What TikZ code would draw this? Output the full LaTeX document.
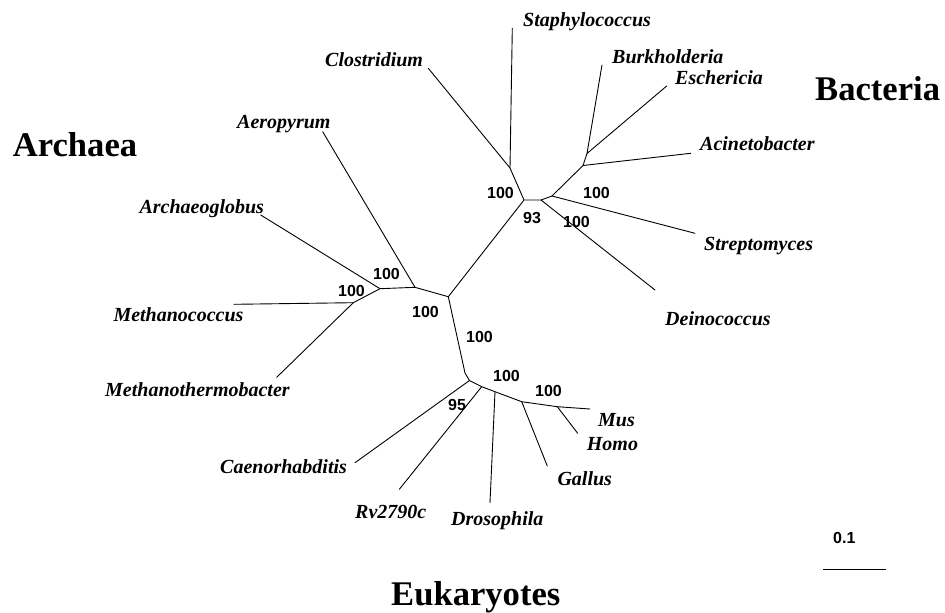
\documentclass[tikz,border=0pt]{standalone}
\usepackage{fontspec}
\setmainfont{Liberation Serif}
\newfontfamily\arialfont{Liberation Sans}
\begin{document}
\begin{tikzpicture}[x=1pt,y=-1pt,
  branch/.style={line width=0.9pt, line cap=round, line join=round},
  taxon/.style={font=\fontsize{20}{24}\selectfont\bfseries\itshape, anchor=base west, inner sep=0pt},
  boot/.style={font=\arialfont\fontsize{16}{19}\selectfont\bfseries, anchor=base west, inner sep=0pt},
  domainlbl/.style={font=\fontsize{34.6}{40}\selectfont\bfseries, anchor=base west, inner sep=0pt}]
\useasboundingbox (0,0) rectangle (945,613);
% internal nodes
\coordinate (R) at (448.3,296.7);
\coordinate (A2) at (415,287.3);
\coordinate (A1) at (380,288.7);
\coordinate (A3) at (353.3,302.7);
\coordinate (B2) at (524,200);
\coordinate (B1) at (510,168);
\coordinate (B3) at (541,200);
\coordinate (B4) at (552,196);
\coordinate (B5) at (583,165.5);
\coordinate (B6) at (587,153.5);
\coordinate (E1) at (465,373);
\coordinate (E2) at (469.5,380.5);
\coordinate (E3) at (481.7,386.7);
\coordinate (E4) at (495,391.7);
\coordinate (E5) at (521.7,401.7);
\coordinate (E6) at (557.3,406.7);
% leaf ends
\coordinate (lAer) at (322.7,131.7);
\coordinate (lArc) at (260.7,215);
\coordinate (lMco) at (234,304.3);
\coordinate (lMth) at (276.7,377.3);
\coordinate (lSta) at (512.3,28.3);
\coordinate (lClo) at (428.3,68.3);
\coordinate (lDei) at (655,290);
\coordinate (lStr) at (695,233.3);
\coordinate (lAci) at (690.7,153.3);
\coordinate (lBur) at (602,65);
\coordinate (lEsc) at (666.7,86);
\coordinate (lCae) at (355,462.7);
\coordinate (lRv) at (399.3,489.3);
\coordinate (lDro) at (490,502.7);
\coordinate (lGal) at (547.3,466);
\coordinate (lMus) at (590,409);
\coordinate (lHom) at (577.7,433.3);
% branches
\draw[branch] (R) -- (A2) -- (A1) -- (A3);
\draw[branch] (A2) -- (lAer);
\draw[branch] (A1) -- (lArc);
\draw[branch] (A3) -- (lMco);
\draw[branch] (A3) -- (lMth);
\draw[branch] (R) -- (B2) -- (B1) -- (lSta);
\draw[branch] (B1) -- (lClo);
\draw[branch] (B2) -- (B3) -- (B4) -- (B5) -- (B6) -- (lBur);
\draw[branch] (B6) -- (lEsc);
\draw[branch] (B5) -- (lAci);
\draw[branch] (B4) -- (lStr);
\draw[branch] (B3) -- (lDei);
\draw[branch] (R) -- (E1) -- (E2) -- (E3) -- (E4) -- (E5) -- (E6) -- (lMus);
\draw[branch] (E2) -- (lCae);
\draw[branch] (E3) -- (lRv);
\draw[branch] (E4) -- (lDro);
\draw[branch] (E5) -- (lGal);
\draw[branch] (E6) -- (lHom);
% taxon labels
\node[taxon] (tSta) at (523,27) {Staphylococcus};
\node[taxon] (tClo) at (325,66) {Clostridium};
\node[taxon] (tBur) at (612,63) {Burkholderia};
\node[taxon] (tEsc) at (675,84) {Eschericia};
\node[taxon] (tAci) at (700,150.7) {Acinetobacter};
\node[taxon] (tStr) at (704,250) {Streptomyces};
\node[taxon] (tDei) at (665,325) {Deinococcus};
\node[taxon] (tAer) at (237,128.3) {Aeropyrum};
\node[taxon] (tArc) at (139.3,213.3) {Archaeoglobus};
\node[taxon] (tMco) at (113.3,321.5) {Methanococcus};
\node[taxon] (tMth) at (105,396.5) {Methanothermobacter};
\node[taxon] (tCae) at (220,473.3) {Caenorhabditis};
\node[taxon] (tRv) at (355,518.3) {Rv2790c};
\node[taxon] (tDro) at (451,525) {Drosophila};
\node[taxon] (tGal) at (557.3,485) {Gallus};
\node[taxon] (tMus) at (598,426.7) {Mus};
\node[taxon] (tHom) at (586.7,450) {Homo};
% domain labels
\node[domainlbl] (dBac) at (815,100) {Bacteria};
\node[domainlbl] (dArc) at (12.7,156.5) {Archaea};
\node[domainlbl] (dEuk) at (391,605) {Eukaryotes};
% bootstrap values
\node[boot] (b1) at (487,198) {100};
\node[boot] (b2) at (523,223) {93};
\node[boot] (b3) at (583,198) {100};
\node[boot] (b4) at (563,227) {100};
\node[boot] (b5) at (373,279) {100};
\node[boot] (b6) at (338,296) {100};
\node[boot] (b7) at (412,317) {100};
\node[boot] (b8) at (466,342.7) {100};
\node[boot] (b9) at (493,381.7) {100};
\node[boot] (b10) at (535,396) {100};
\node[boot] (b11) at (448,410) {95};
% scale bar
\coordinate (sL) at (823.3,569.3);
\coordinate (sR) at (886,569.3);
\draw[branch, line cap=butt] (sL) -- (sR);
\node[boot] (sc) at (833,543) {0.1};
\end{tikzpicture}
\end{document}
